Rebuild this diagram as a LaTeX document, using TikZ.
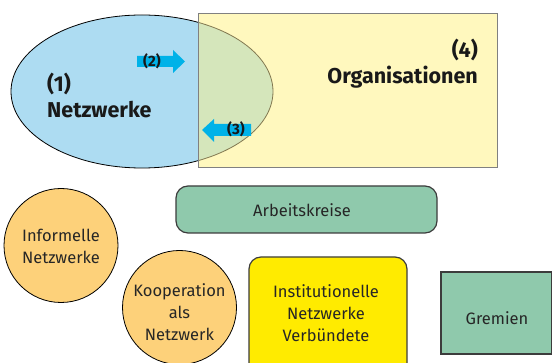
\documentclass[tikz,border=0pt]{standalone}
\usepackage{fontspec}
\setmainfont{Fira Sans}
\definecolor{netblue}{RGB}{173,220,242}
\definecolor{orgyellow}{RGB}{255,248,190}
\definecolor{overlapgreen}{RGB}{213,230,187}
\definecolor{olivel}{RGB}{130,120,80}
\definecolor{arrowblue}{RGB}{0,178,232}
\definecolor{circorange}{RGB}{253,209,122}
\definecolor{boxgreen}{RGB}{143,201,172}
\definecolor{boxyellow}{RGB}{255,235,0}
\definecolor{edgegray}{RGB}{60,60,60}
\tikzset{
  bigtext/.style={font=\fontsize{21.5}{26}\selectfont\bfseries, align=left, inner sep=0pt, text=black!90},
  arrtext/.style={font=\fontsize{15}{17}\selectfont\bfseries, inner sep=0pt, text=black!90},
  smalltext/.style={font=\fontsize{16.5}{22}\selectfont, align=center, inner sep=0pt, text=black!85},
  circnode/.style={circle, draw=black, line width=0.8pt, fill=circorange, minimum size=114pt, inner sep=0pt},
  roundbox/.style={draw=edgegray, line width=1.2pt, rounded corners=12pt},
  blockarrow/.style={fill=arrowblue}
}
\begin{document}
\begin{tikzpicture}[x=1pt,y=-1pt]
\useasboundingbox (0,0) rectangle (552,363);
% ellipse and rectangle
\fill[netblue] (142,91.5) ellipse [x radius=131, y radius=76.5];
\draw[black, line width=0.8pt] (142,91.5) ellipse [x radius=131, y radius=76.5];
\fill[orgyellow] (198,13) rectangle (497,167);
\begin{scope}
  \clip (198,13) rectangle (497,167);
  \fill[overlapgreen] (142,91.5) ellipse [x radius=131, y radius=76.5];
  \draw[olivel, line width=0.8pt] (142,91.5) ellipse [x radius=131, y radius=76.5];
\end{scope}
\draw[gray, line width=0.8pt] (198,13) rectangle (497,167);
% labels
\node[bigtext, anchor=north west] (net) at (47,73) {(1)\\Netzwerke};
\node[bigtext, anchor=north east, align=right] (org) at (478,39) {(4)\\Organisationen};
% arrows
\fill[blockarrow] (137,56) -- (173,56) -- (173,50) -- (185,61.5) -- (173,73) -- (173,67) -- (137,67) -- cycle;
\node[arrtext] (a2) at (152,61.5) {(2)};
\fill[blockarrow] (251,124) -- (214,124) -- (214,119) -- (202,130) -- (214,142) -- (214,136) -- (251,136) -- cycle;
\node[arrtext] (a3) at (236,129.5) {(3)};
% bottom elements
\node[circnode] (inf) at (61,245.5) {};
\node[smalltext] (inft) at (61,246) {Informelle\\Netzwerke};
\node[circnode] (koop) at (179.5,307.5) {};
\node[smalltext] (koopt) at (179.5,312) {Kooperation\\als\\Netzwerk};
\draw[roundbox, fill=boxgreen] (176,186) rectangle (437,233);
\node[smalltext] (ak) at (302,210) {Arbeitskreise};
\draw[roundbox, fill=boxyellow] (249,257) rectangle (407,380);
\node[smalltext] (inst) at (326,313) {Institutionelle\\Netzwerke\\Verbündete};
\draw[edgegray, line width=1.2pt, fill=boxgreen] (441,272) rectangle (551.4,354);
\node[smalltext] (grem) at (497,318) {Gremien};
\end{tikzpicture}
\end{document}
